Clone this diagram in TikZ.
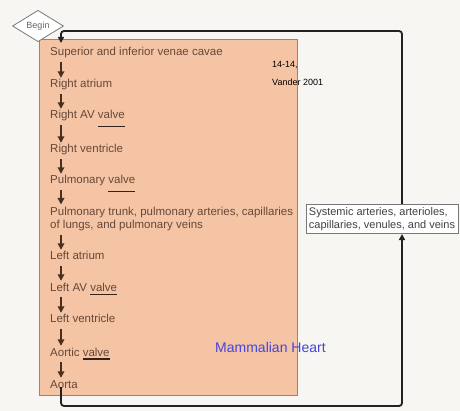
\documentclass[tikz,border=0pt]{standalone}
\usepackage{fontspec}
\setmainfont{Liberation Sans}
\usetikzlibrary{arrows.meta,shapes.geometric}
\definecolor{bgc}{RGB}{248,246,243}
\definecolor{pinkc}{RGB}{245,196,164}
\definecolor{pinkline}{RGB}{160,128,112}
\definecolor{txtc}{RGB}{100,72,58}
\definecolor{arrc}{RGB}{74,46,30}
\definecolor{ulc}{RGB}{50,34,26}
\definecolor{loopc}{RGB}{34,34,34}
\definecolor{bluec}{RGB}{68,68,221}
\definecolor{grayc}{RGB}{120,120,120}
\newcommand{\valveul}[2]{\setbox0\hbox{#2}\rlap{\smash{\raisebox{#1}{\color{ulc}\rule{\wd0}{1.1pt}}}}\box0}
\tikzset{
  item/.style={anchor=base west, inner sep=0pt, text height=8pt, text depth=2pt, font=\fontsize{11.5}{13}\selectfont, text=txtc},
  flowarr/.style={draw=arrc, line width=1.7pt, -{Triangle[length=6.5pt,width=6.5pt]}, shorten <=4pt, shorten >=2pt},
  loopline/.style={draw=loopc, line width=1.8pt, rounded corners=3pt},
  looparr/.style={loopline, -{Triangle[length=6pt,width=6pt]}},
}
\begin{document}
\begin{tikzpicture}[x=1pt,y=-1pt]
\useasboundingbox (0,0) rectangle (460,411);
\fill[bgc] (0,0) rectangle (460,411);
\node (heartbox) [draw=pinkline, fill=pinkc, line width=0.8pt, minimum width=258pt, minimum height=356pt, anchor=north west, inner sep=0pt] at (39,39) {};
\coordinate (ax) at (61,0);
\coordinate (topy) at (0,31);
\coordinate (boty) at (0,406);
\coordinate (rx) at (402,0);

\node[item] (sup) at (50,56) {Superior and inferior venae cavae};
\node[item] (ra) at (50,88) {Right atrium};
\node[item] (rav) at (50,119) {Right AV \valveul{-8.5pt}{valve}};
\node[item] (rv) at (50,153) {Right ventricle};
\node[item] (pv) at (50,184) {Pulmonary \valveul{-8.5pt}{valve}};
\node[anchor=north west, inner sep=0pt, align=left, font=\fontsize{11.5}{13}\selectfont, text=txtc] (pt) at (50,206.5) {Pulmonary trunk, pulmonary arteries, capillaries\\of lungs, and pulmonary veins};
\node[item] (la) at (50,260) {Left atrium};
\node[item] (lav) at (50,291) {Left AV \valveul{-4.5pt}{valve}};
\node[item] (lv) at (50,323) {Left ventricle};
\node[item] (av) at (50,356) {Aortic \valveul{-3.5pt}{valve}};
\node[item] (ao) at (50,388) {Aorta};

\draw[flowarr] (ax |- sup.south) -- (ax |- ra.north);
\draw[flowarr] (ax |- ra.south) -- (ax |- rav.north);
\draw[flowarr] (ax |- rav.south) -- (ax |- rv.north);
\draw[flowarr] (ax |- rv.south) -- (ax |- pv.north);
\draw[flowarr] (ax |- pv.south) -- (ax |- pt.north);
\draw[flowarr] (ax |- pt.south) -- (ax |- la.north);
\draw[flowarr] (ax |- la.south) -- (ax |- lav.north);
\draw[flowarr] (ax |- lav.south) -- (ax |- lv.north);
\draw[flowarr] (ax |- lv.south) -- (ax |- av.north);
\draw[flowarr] (ax |- av.south) -- (ax |- ao.north);

\node (sys) [draw=grayc, fill=white, line width=0.8pt, align=left, inner xsep=3pt, inner ysep=3pt, font=\fontsize{11}{13}\selectfont, text=black!75] at (382,219) {Systemic arteries, arterioles,\\capillaries, venules, and veins};

\draw[looparr] (rx |- sys.north) |- (ax |- topy) -- ([yshift=-4pt]ax |- heartbox.north);
\draw[looparr] ([yshift=3pt]ax |- ao.south) |- (rx |- boty) -- (rx |- sys.south);

\node (begin) [diamond, minimum width=51pt, minimum height=24pt, draw=grayc, fill=white, line width=0.8pt, inner sep=0pt, font=\fontsize{9}{10}\selectfont, text=black!60] at (38,26) {Begin};

\node (fig) [anchor=base west, inner sep=0pt, font=\fontsize{9}{10}\selectfont] at (272,68) {14-14,};
\node (ref) [anchor=base west, inner sep=0pt, font=\fontsize{9}{10}\selectfont] at (272,86) {Vander 2001};
\node (title) [anchor=base west, inner sep=0pt, font=\fontsize{14}{16}\selectfont, text=bluec] at (215,352) {Mammalian Heart};
\end{tikzpicture}
\end{document}
